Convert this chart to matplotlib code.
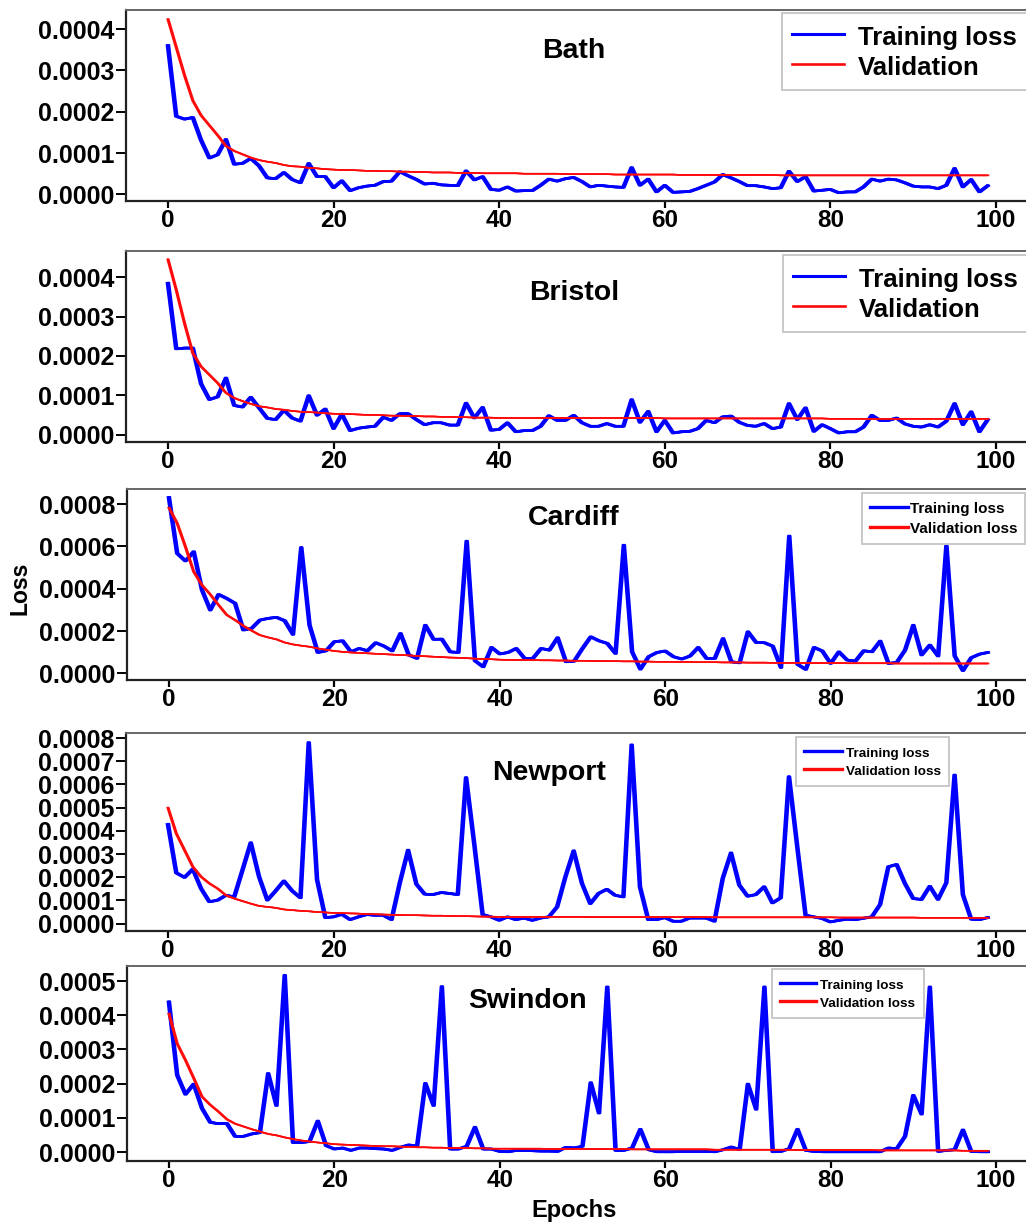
import numpy as np
import matplotlib
matplotlib.use('Agg')
import matplotlib.pyplot as plt
from matplotlib import patheffects as pe
from matplotlib.ticker import MultipleLocator, FormatStrFormatter

plt.rcParams['font.family'] = ['Liberation Sans', 'DejaVu Sans']
plt.rcParams['font.weight'] = 'bold'

# loss values are stored in units of 1e-4
epochs = np.arange(100)
cities = ['Bath', 'Bristol', 'Cardiff', 'Newport', 'Swindon']
val_labels = ['Validation', 'Validation', 'Validation loss', 'Validation loss', 'Validation loss']

bath_train = [
    3.60, 1.89, 1.82, 1.86, 1.31, 0.88, 0.96, 1.33, 0.73, 0.75,
    0.87, 0.69, 0.40, 0.38, 0.53, 0.36, 0.28, 0.75, 0.43, 0.43,
    0.16, 0.33, 0.09, 0.16, 0.20, 0.22, 0.31, 0.32, 0.55, 0.45,
    0.36, 0.25, 0.27, 0.23, 0.22, 0.21, 0.57, 0.35, 0.43, 0.12,
    0.10, 0.18, 0.08, 0.09, 0.09, 0.22, 0.37, 0.32, 0.38, 0.41,
    0.31, 0.18, 0.22, 0.20, 0.18, 0.17, 0.65, 0.22, 0.37, 0.06,
    0.22, 0.05, 0.06, 0.07, 0.14, 0.22, 0.30, 0.48, 0.40, 0.31,
    0.21, 0.21, 0.18, 0.14, 0.16, 0.56, 0.31, 0.43, 0.08, 0.10,
    0.12, 0.04, 0.06, 0.06, 0.18, 0.37, 0.32, 0.37, 0.35, 0.28,
    0.20, 0.18, 0.18, 0.14, 0.22, 0.63, 0.18, 0.36, 0.06, 0.21]
bath_val = [
    4.24, 3.56, 2.88, 2.27, 1.91, 1.67, 1.43, 1.17, 1.05, 0.97,
    0.89, 0.83, 0.79, 0.76, 0.71, 0.68, 0.67, 0.64, 0.63, 0.61,
    0.60, 0.59, 0.59, 0.58, 0.57, 0.57, 0.56, 0.56, 0.55, 0.55,
    0.54, 0.54, 0.53, 0.53, 0.53, 0.52, 0.52, 0.52, 0.51, 0.51,
    0.51, 0.51, 0.51, 0.50, 0.50, 0.50, 0.50, 0.50, 0.49, 0.49,
    0.49, 0.49, 0.49, 0.49, 0.48, 0.48, 0.48, 0.48, 0.48, 0.48,
    0.48, 0.48, 0.47, 0.47, 0.47, 0.47, 0.47, 0.47, 0.47, 0.47,
    0.47, 0.47, 0.47, 0.47, 0.46, 0.46, 0.46, 0.46, 0.46, 0.46,
    0.46, 0.46, 0.46, 0.46, 0.46, 0.46, 0.46, 0.46, 0.46, 0.46,
    0.46, 0.46, 0.46, 0.46, 0.46, 0.46, 0.46, 0.46, 0.46, 0.46]

bristol_train = [
    3.85, 2.18, 2.20, 2.20, 1.29, 0.89, 0.96, 1.44, 0.74, 0.70,
    0.95, 0.68, 0.41, 0.38, 0.62, 0.42, 0.34, 0.99, 0.49, 0.65,
    0.15, 0.52, 0.10, 0.16, 0.19, 0.21, 0.44, 0.36, 0.53, 0.53,
    0.38, 0.25, 0.30, 0.30, 0.24, 0.24, 0.80, 0.42, 0.69, 0.11,
    0.13, 0.30, 0.07, 0.10, 0.10, 0.21, 0.48, 0.36, 0.36, 0.49,
    0.30, 0.21, 0.21, 0.28, 0.21, 0.21, 0.89, 0.31, 0.59, 0.07,
    0.36, 0.04, 0.07, 0.08, 0.15, 0.36, 0.30, 0.45, 0.47, 0.31,
    0.23, 0.21, 0.28, 0.15, 0.19, 0.79, 0.38, 0.68, 0.08, 0.25,
    0.15, 0.04, 0.07, 0.07, 0.19, 0.49, 0.36, 0.36, 0.42, 0.27,
    0.21, 0.19, 0.25, 0.19, 0.34, 0.79, 0.25, 0.58, 0.07, 0.38]
bristol_val = [
    4.46, 3.68, 2.83, 2.07, 1.73, 1.52, 1.31, 1.06, 0.93, 0.85,
    0.78, 0.72, 0.69, 0.65, 0.63, 0.60, 0.58, 0.57, 0.56, 0.54,
    0.53, 0.52, 0.52, 0.51, 0.50, 0.50, 0.49, 0.48, 0.48, 0.47,
    0.47, 0.46, 0.46, 0.45, 0.45, 0.44, 0.44, 0.43, 0.43, 0.43,
    0.42, 0.42, 0.42, 0.42, 0.42, 0.42, 0.42, 0.42, 0.42, 0.42,
    0.42, 0.42, 0.42, 0.42, 0.42, 0.42, 0.42, 0.42, 0.42, 0.42,
    0.41, 0.41, 0.41, 0.41, 0.41, 0.41, 0.41, 0.41, 0.41, 0.41,
    0.41, 0.41, 0.41, 0.41, 0.41, 0.41, 0.41, 0.41, 0.41, 0.41,
    0.40, 0.40, 0.40, 0.40, 0.40, 0.40, 0.40, 0.40, 0.40, 0.40,
    0.40, 0.40, 0.40, 0.40, 0.40, 0.40, 0.40, 0.40, 0.40, 0.40]

cardiff_train = [
    8.31, 5.67, 5.31, 5.75, 3.94, 2.99, 3.73, 3.54, 3.31, 2.05,
    2.13, 2.52, 2.60, 2.65, 2.49, 1.84, 5.95, 2.28, 0.99, 1.07,
    1.50, 1.54, 1.02, 1.18, 1.07, 1.45, 1.29, 1.06, 1.89, 0.87,
    0.71, 2.28, 1.61, 1.62, 1.02, 0.99, 6.25, 0.60, 0.31, 1.23,
    0.92, 0.99, 1.18, 0.71, 0.71, 1.18, 1.10, 1.69, 0.55, 0.58,
    1.18, 1.73, 1.54, 1.42, 0.94, 6.06, 1.02, 0.20, 0.79, 0.99,
    1.06, 0.79, 0.68, 0.82, 1.23, 0.71, 0.71, 1.65, 0.55, 0.50,
    1.97, 1.46, 1.45, 1.29, 0.28, 6.49, 0.43, 0.19, 1.23, 1.06,
    0.47, 1.02, 0.63, 0.58, 1.07, 1.02, 1.53, 0.47, 0.52, 1.10,
    2.28, 0.87, 1.34, 0.82, 6.03, 0.83, 0.13, 0.74, 0.91, 0.99]
cardiff_val = [
    7.83, 7.09, 5.98, 4.80, 4.17, 3.73, 3.23, 2.76, 2.52, 2.25,
    2.02, 1.81, 1.70, 1.61, 1.46, 1.37, 1.31, 1.26, 1.18, 1.12,
    1.06, 1.02, 0.99, 0.97, 0.95, 0.93, 0.91, 0.89, 0.87, 0.85,
    0.83, 0.81, 0.79, 0.77, 0.75, 0.74, 0.72, 0.70, 0.68, 0.67,
    0.65, 0.64, 0.64, 0.63, 0.63, 0.62, 0.62, 0.61, 0.61, 0.60,
    0.60, 0.59, 0.59, 0.58, 0.58, 0.57, 0.57, 0.56, 0.56, 0.55,
    0.55, 0.55, 0.54, 0.54, 0.53, 0.53, 0.53, 0.52, 0.52, 0.52,
    0.51, 0.51, 0.51, 0.50, 0.50, 0.50, 0.50, 0.49, 0.49, 0.49,
    0.49, 0.49, 0.48, 0.48, 0.48, 0.48, 0.48, 0.48, 0.47, 0.47,
    0.47, 0.47, 0.47, 0.47, 0.47, 0.47, 0.47, 0.47, 0.47, 0.47]

newport_train = [
    4.28, 2.19, 1.99, 2.35, 1.51, 0.94, 1.01, 1.22, 1.15, 2.31,
    3.49, 2.02, 1.01, 1.41, 1.84, 1.41, 1.11, 7.81, 1.90, 0.26,
    0.29, 0.40, 0.17, 0.29, 0.39, 0.36, 0.36, 0.17, 1.76, 3.17,
    1.70, 1.27, 1.25, 1.34, 1.30, 1.25, 6.30, 3.40, 0.39, 0.29,
    0.14, 0.29, 0.17, 0.24, 0.14, 0.24, 0.29, 0.72, 2.02, 3.14,
    1.73, 0.86, 1.30, 1.48, 1.22, 1.15, 7.71, 1.59, 0.17, 0.17,
    0.26, 0.10, 0.10, 0.24, 0.24, 0.24, 0.10, 1.95, 3.05, 1.66,
    1.18, 1.25, 1.59, 0.89, 1.11, 6.34, 3.31, 0.36, 0.29, 0.22,
    0.07, 0.14, 0.19, 0.17, 0.23, 0.29, 0.82, 2.45, 2.55, 1.73,
    1.08, 1.04, 1.61, 1.04, 1.76, 6.41, 1.25, 0.19, 0.17, 0.26]
newport_val = [
    5.00, 3.89, 3.17, 2.45, 2.02, 1.73, 1.51, 1.22, 1.08, 0.97,
    0.86, 0.76, 0.72, 0.68, 0.61, 0.58, 0.55, 0.53, 0.50, 0.48,
    0.46, 0.45, 0.44, 0.43, 0.41, 0.40, 0.39, 0.38, 0.37, 0.36,
    0.36, 0.35, 0.34, 0.34, 0.33, 0.32, 0.32, 0.31, 0.30, 0.30,
    0.29, 0.29, 0.29, 0.29, 0.29, 0.29, 0.29, 0.29, 0.29, 0.29,
    0.29, 0.28, 0.28, 0.28, 0.28, 0.28, 0.28, 0.28, 0.28, 0.28,
    0.28, 0.28, 0.28, 0.28, 0.28, 0.28, 0.27, 0.27, 0.27, 0.27,
    0.27, 0.27, 0.27, 0.27, 0.27, 0.27, 0.27, 0.27, 0.27, 0.27,
    0.27, 0.26, 0.26, 0.26, 0.26, 0.26, 0.26, 0.26, 0.26, 0.26,
    0.26, 0.25, 0.25, 0.25, 0.25, 0.25, 0.25, 0.25, 0.25, 0.25]

swindon_train = [
    4.39, 2.25, 1.69, 1.99, 1.28, 0.87, 0.83, 0.84, 0.46, 0.46,
    0.53, 0.57, 2.30, 1.36, 5.17, 0.28, 0.28, 0.31, 0.91, 0.19,
    0.09, 0.12, 0.05, 0.12, 0.12, 0.10, 0.09, 0.05, 0.14, 0.21,
    0.17, 2.01, 1.36, 4.84, 0.09, 0.09, 0.17, 0.73, 0.09, 0.09,
    0.02, 0.01, 0.05, 0.05, 0.04, 0.03, 0.03, 0.02, 0.14, 0.12,
    0.17, 2.03, 1.14, 4.83, 0.05, 0.05, 0.12, 0.67, 0.07, 0.01,
    0.01, 0.01, 0.02, 0.02, 0.02, 0.02, 0.01, 0.07, 0.15, 0.07,
    1.99, 1.25, 4.83, 0.01, 0.02, 0.10, 0.67, 0.05, 0.02, 0.01,
    0.01, 0.01, 0.01, 0.01, 0.01, 0.01, 0.01, 0.12, 0.10, 0.46,
    1.66, 1.11, 4.83, 0.02, 0.05, 0.07, 0.65, 0.02, 0.01, 0.01]
swindon_val = [
    4.05, 3.17, 2.69, 2.16, 1.62, 1.38, 1.18, 0.96, 0.83, 0.75,
    0.67, 0.60, 0.53, 0.49, 0.43, 0.38, 0.34, 0.31, 0.28, 0.26,
    0.23, 0.22, 0.21, 0.20, 0.19, 0.18, 0.17, 0.17, 0.16, 0.15,
    0.14, 0.14, 0.13, 0.13, 0.12, 0.12, 0.12, 0.11, 0.11, 0.10,
    0.10, 0.10, 0.10, 0.10, 0.10, 0.10, 0.09, 0.09, 0.09, 0.09,
    0.09, 0.09, 0.09, 0.09, 0.09, 0.09, 0.08, 0.08, 0.08, 0.08,
    0.08, 0.08, 0.08, 0.08, 0.08, 0.08, 0.07, 0.07, 0.07, 0.07,
    0.07, 0.07, 0.07, 0.07, 0.07, 0.07, 0.06, 0.06, 0.06, 0.06,
    0.06, 0.06, 0.06, 0.06, 0.06, 0.06, 0.05, 0.05, 0.05, 0.05,
    0.05, 0.05, 0.05, 0.05, 0.05, 0.05, 0.04, 0.04, 0.04, 0.04]

train_series = [bath_train, bristol_train, cardiff_train, newport_train, swindon_train]
val_series = [bath_val, bristol_val, cardiff_val, newport_val, swindon_val]

# page layout in pixels (left, top, bottom) for each panel
W, H = 1026, 1224
panel_px = [(126, 10, 201), (126, 251, 442), (127, 489, 680), (126, 733, 931), (127, 966, 1161)]
right_px = 1029
ylims = [(-0.16, 4.46), (-0.19, 4.67), (-0.31, 8.71), (-0.32, 8.22), (-0.26, 5.44)]
ysteps = [1, 1, 2, 1, 1]
title_px = [(574, 51), (574, 293), (574, 518), (549, 773), (527, 1001)]
# legend: left, top, font size, handle length, handle pad, border pad, label spacing, handle height
legend_cfg = [(782, 13, 18.5, 2.0, 0.55, 0.4, 0.12, 1.2),
              (783, 255, 18.5, 2.0, 0.55, 0.4, 0.12, 1.2),
              (862, 493, 11, 2.5, 0.15, 0.5, 0.27, 1.15),
              (796, 737, 9.7, 2.8, 0.3, 0.6, 0.22, 1.33),
              (772, 969, 9.7, 2.7, 0.3, 0.6, 0.22, 1.33)]
legend_lw = [(2.2, 1.9), (2.2, 1.9), (2.4, 2.4), (2.4, 2.4), (2.4, 2.4)]

fig = plt.figure(figsize=(W / 100, H / 100), dpi=100)

def wide_fx(dx):
    # thicker strokes on steep segments
    return [pe.Stroke(offset=(dx, 0)), pe.Stroke(offset=(-dx, 0)), pe.Normal()]

for i in range(5):
    left, top, bottom = panel_px[i]
    ax = fig.add_axes([left / W, 1 - bottom / H, (right_px - left) / W, (bottom - top) / H])
    tr = np.array(train_series[i]) * 1e-4
    va = np.array(val_series[i]) * 1e-4
    ax.plot(epochs, tr, color='#0000ff', lw=1.9, label='Training loss', path_effects=wide_fx(0.7))
    ax.plot(epochs, va, color='#ff0a0a', lw=1.1, label=val_labels[i], path_effects=wide_fx(0.6))

    ax.set_xlim(-5.07, (right_px - 168) / 8.28)
    ax.set_ylim(ylims[i][0] * 1e-4, ylims[i][1] * 1e-4)
    ax.xaxis.set_major_locator(MultipleLocator(20))
    ax.yaxis.set_major_locator(MultipleLocator(ysteps[i] * 1e-4))
    ax.yaxis.set_major_formatter(FormatStrFormatter('%.4f'))
    ax.tick_params(axis='y', direction='out', length=7, width=1.4, pad=1.5, labelsize=18)
    ax.tick_params(axis='x', direction='out', length=5, width=1.6, pad=0.5, labelsize=17.5)
    for s in ['left', 'bottom']:
        ax.spines[s].set_color('#222222')
        ax.spines[s].set_linewidth(1.6)
    ax.spines['top'].set_color('#666666')
    ax.spines['top'].set_linewidth(1.4)
    ax.spines['right'].set_visible(False)

    tx, ty = title_px[i]
    fig.text(tx / W, 1 - ty / H, cities[i], ha='center', va='center', fontsize=20.5, fontweight='bold')

    lx, ly, fs, hl, htp, bp, ls, hh = legend_cfg[i]
    leg = ax.legend(loc='upper left', bbox_to_anchor=(lx / W, 1 - ly / H),
                    bbox_transform=fig.transFigure, borderaxespad=0,
                    prop={'size': fs, 'weight': 'bold'}, handlelength=hl,
                    handletextpad=htp, borderpad=bp, labelspacing=ls,
                    handleheight=hh, fancybox=False, framealpha=1)
    leg.get_frame().set_edgecolor('#c8c8c8')
    leg.get_frame().set_linewidth(1.4)
    for line, lw in zip(leg.get_lines(), legend_lw[i]):
        line.set_linewidth(lw)
        line.set_path_effects([])

fig.text(20 / W, 1 - 588 / H, 'Loss', rotation=90, ha='center', va='center', fontsize=16.5, fontweight='bold')
fig.text(574 / W, 1 - 1210 / H, 'Epochs', ha='center', va='center', fontsize=17, fontweight='bold')

fig.savefig('out.png', dpi=100)
